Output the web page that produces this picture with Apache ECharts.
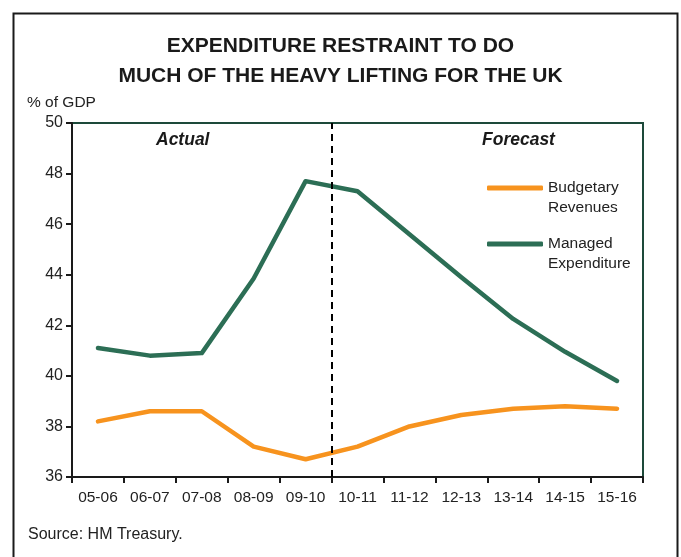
<!DOCTYPE html>
<html>
<head>
<meta charset="utf-8">
<script src="https://cdn.jsdelivr.net/npm/echarts@6/dist/echarts.min.js"></script>
<style>
html,body{margin:0;padding:0;background:#fff;}
#chart{width:681px;height:557px;}
</style>
</head>
<body>
<div id="chart"></div>
<script>
var categories = ['05-06','06-07','07-08','08-09','09-10','10-11','11-12','12-13','13-14','14-15','15-16'];
var revenues = [38.2, 38.6, 38.6, 37.2, 36.7, 37.2, 38.0, 38.45, 38.7, 38.8, 38.7];
var expenditure = [41.1, 40.8, 40.9, 43.85, 47.7, 47.3, 45.6, 43.9, 42.25, 40.95, 39.8];
var yTicks = [36, 50, 2];
var dividerPosition = 5;
var seriesNames = ['Budgetary\nRevenues', 'Managed\nExpenditure'];

var FONT = '"Liberation Sans", Arial, sans-serif';
var chart = echarts.init(document.getElementById('chart'), null, {renderer: 'canvas'});
chart.setOption({
  animation: false,
  backgroundColor: '#fff',
  textStyle: {fontFamily: FONT},
  title: {
    text: 'EXPENDITURE RESTRAINT TO DO\nMUCH OF THE HEAVY LIFTING FOR THE UK',
    left: 'center',
    top: 26,
    textStyle: {fontFamily: FONT, fontSize: 21, fontWeight: 'bold', color: '#1a1a1a', lineHeight: 30}
  },
  grid: {left: 72, right: 38, top: 123, bottom: 80, show: true, borderColor: '#1d4a3a', borderWidth: 2, backgroundColor: 'transparent'},
  legend: {
    orient: 'vertical',
    left: 482,
    top: 153,
    itemWidth: 56,
    itemHeight: 5,
    itemGap: -4,
    icon: 'roundRect',
    data: seriesNames,
    textStyle: {fontFamily: FONT, fontSize: 15.5, color: '#222', lineHeight: 20},
    formatter: function (n) { return '\n' + n; }
  },
  xAxis: [{
    type: 'category',
    data: categories,
    boundaryGap: true,
    axisLine: {lineStyle: {color: '#1a1a1a', width: 2}},
    axisTick: {show: true, length: 6, lineStyle: {color: '#1a1a1a', width: 2}},
    axisLabel: {fontFamily: FONT, fontSize: 15.5, color: '#222', margin: 13}
  }, {
    type: 'value',
    min: 0,
    max: categories.length,
    show: false
  }],
  yAxis: {
    type: 'value',
    min: yTicks[0],
    max: yTicks[1],
    interval: yTicks[2],
    axisLine: {show: true, lineStyle: {color: '#1a1a1a', width: 2}},
    axisTick: {show: true, length: 6, lineStyle: {color: '#1a1a1a', width: 2}},
    splitLine: {show: false},
    axisLabel: {fontFamily: FONT, fontSize: 16, color: '#222', margin: 9}
  },
  series: [{
    name: seriesNames[0],
    type: 'line',
    data: revenues,
    symbol: 'none',
    lineStyle: {color: '#f7931e', width: 4.5, cap: 'round', join: 'round'},
    itemStyle: {color: '#f7931e'},
    z: 3
  }, {
    name: seriesNames[1],
    type: 'line',
    data: expenditure,
    symbol: 'none',
    lineStyle: {color: '#2c6e55', width: 4.5, cap: 'round', join: 'round'},
    itemStyle: {color: '#2c6e55'},
    z: 3
  }, {
    name: 'divider',
    type: 'line',
    xAxisIndex: 1,
    data: [],
    markLine: {
      silent: true,
      symbol: 'none',
      label: {show: false},
      lineStyle: {color: '#000', type: [7, 5], width: 2},
      data: [{xAxis: dividerPosition}]
    }
  }],
  graphic: [
    {type: 'rect', left: 11, top: 11, shape: {width: 664, height: 560}, style: {fill: 'none', stroke: '#1a1a1a', lineWidth: 2}, silent: true},
    {type: 'text', left: 27, top: 95, style: {text: '% of GDP', font: '15.5px ' + FONT, fill: '#222'}},
    {type: 'text', left: 156, top: 131, style: {text: 'Actual', font: 'italic bold 17.5px ' + FONT, fill: '#1a1a1a'}},
    {type: 'text', left: 482, top: 131, style: {text: 'Forecast', font: 'italic bold 17.5px ' + FONT, fill: '#1a1a1a'}},
    {type: 'text', left: 28, top: 527, style: {text: 'Source: HM Treasury.', font: '16px ' + FONT, fill: '#222'}}
  ]
});
</script>
</body>
</html>
